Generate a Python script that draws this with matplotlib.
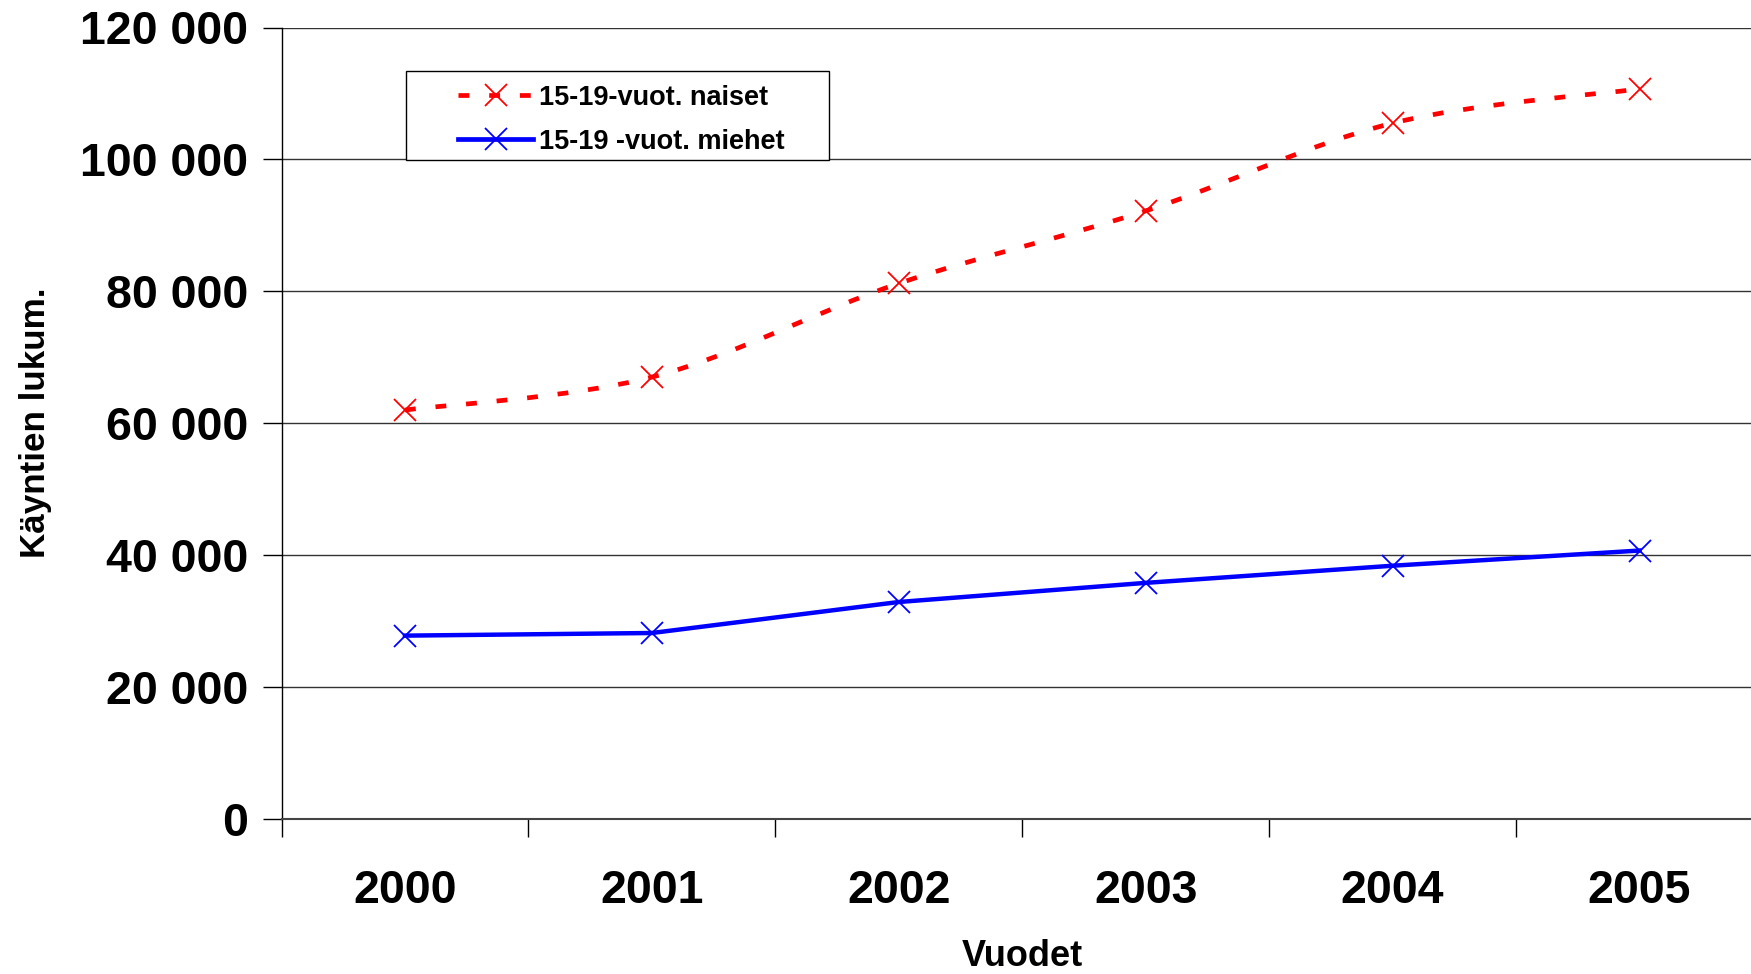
import matplotlib.pyplot as plt
from matplotlib.path import Path
from matplotlib.patches import PathPatch, Rectangle
from matplotlib.lines import Line2D
from matplotlib.ticker import FuncFormatter, FixedLocator

years = ["2000", "2001", "2002", "2003", "2004", "2005"]
naiset = [62000, 67000, 81200, 92200, 105500, 110700]
miehet = [27800, 28200, 32900, 35800, 38400, 40700]
y_ticks = [0, 20000, 40000, 60000, 80000, 100000, 120000]

plt.rcParams["font.family"] = ["Liberation Sans", "DejaVu Sans"]
plt.rcParams["font.weight"] = "bold"

W, H = 1751, 974
fig = plt.figure(figsize=(W / 100, H / 100), dpi=100)
ax = fig.add_axes([281.5 / W, 1 - 819 / H, (1763 - 281.5) / W, (819 - 27.5) / H])

x = list(range(len(years)))


def smooth_path(xs, ys):
    # Excel style smoothed line: cubic bezier with 1/6 tangents
    verts = [(xs[0], ys[0])]
    codes = [Path.MOVETO]
    n = len(xs)
    for i in range(n - 1):
        x0, y0 = xs[max(i - 1, 0)], ys[max(i - 1, 0)]
        x1, y1 = xs[i], ys[i]
        x2, y2 = xs[i + 1], ys[i + 1]
        x3, y3 = xs[min(i + 2, n - 1)], ys[min(i + 2, n - 1)]
        verts += [(x1 + (x2 - x0) / 6, y1 + (y2 - y0) / 6),
                  (x2 - (x3 - x1) / 6, y2 - (y3 - y1) / 6),
                  (x2, y2)]
        codes += [Path.CURVE4] * 3
    return Path(verts, codes)


red_ls = (0, (2.3, 4.2))
ax.add_patch(PathPatch(smooth_path(x, naiset), fill=False, edgecolor="#ff0000",
                       linewidth=3.4, linestyle=red_ls, capstyle="butt", zorder=3))
ax.plot(x, naiset, ls="none", marker="x", ms=16, mew=1.3, color="#ff0000", zorder=4)

ax.plot(x, miehet, color="#0000ff", lw=3.2, marker="x", ms=16, mew=1.3,
        mec="#0000ff", zorder=3)

ax.set_xlim(-0.5, 5.5)
ax.set_ylim(0, 120000)

ax.xaxis.set_major_locator(FixedLocator([i - 0.5 for i in range(7)]))
ax.xaxis.set_minor_locator(FixedLocator(x))
ax.xaxis.set_major_formatter(FuncFormatter(lambda v, p: ""))
ax.set_xticklabels(years, minor=True, fontweight="bold")
ax.tick_params(axis="x", which="major", length=13, width=1, direction="out")
ax.tick_params(axis="x", which="minor", length=0, pad=36, labelsize=33.5)

ax.set_yticks(y_ticks)
ax.yaxis.set_major_formatter(FuncFormatter(lambda v, p: f"{int(v):,}".replace(",", " ")))
ax.tick_params(axis="y", length=14, width=1, pad=10, labelsize=33.5)

ax.grid(axis="y", color="#333333", lw=1)
ax.set_axisbelow(True)
for s in ["top", "right"]:
    ax.spines[s].set_visible(False)
ax.spines["left"].set_linewidth(1)
ax.spines["bottom"].set_color("#444444")
ax.spines["bottom"].set_linewidth(1.5)

ax.set_xlabel("Vuodet", fontsize=26, fontweight="bold")
ax.set_ylabel("Käyntien lukum.", fontsize=25.2, fontweight="bold")
ax_w = 1763 - 281.5
ax_h = 819 - 27.5
ax.xaxis.set_label_coords(0.5, (819 - 966) / ax_h)
ax.xaxis.label.set_va("baseline")
ax.yaxis.set_label_coords((35 - 281.5) / ax_w, 0.5)
ax.yaxis.label.set_va("center")
ax.yaxis.label.set_ha("center")

# legend frame
ax.add_patch(Rectangle((406 / W, 1 - 160 / H), (829 - 406) / W, (160 - 71.5) / H,
                       transform=fig.transFigure, facecolor="white",
                       edgecolor="black", lw=1, zorder=5, clip_on=False))
handles = [
    Line2D([], [], color="#ff0000", lw=3.4, ls=red_ls, marker="x", ms=16, mew=1.3),
    Line2D([], [], color="#0000ff", lw=3.4, marker="x", ms=16, mew=1.3),
]
leg = ax.legend(handles, ["15-19-vuot. naiset", "15-19 -vuot. miehet"],
                loc="center left", bbox_to_anchor=(458 / W, 1 - 119.7 / H),
                bbox_transform=fig.transFigure, fontsize=19.5, frameon=False,
                handlelength=2.77, borderpad=0, borderaxespad=0,
                labelspacing=0.65, handletextpad=0.22)
leg.set_zorder(6)

fig.savefig("out.png", dpi=100)
